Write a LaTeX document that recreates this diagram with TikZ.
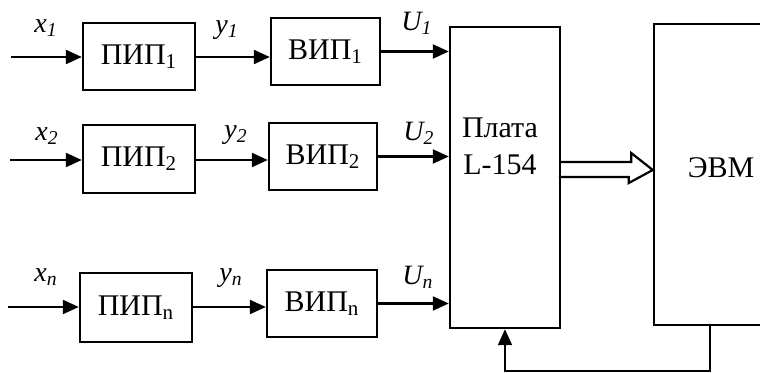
\documentclass[tikz,border=0pt]{standalone}
\usepackage{fontspec}
\setmainfont{Liberation Serif}
\usepackage{tikz}
\usetikzlibrary{arrows.meta,calc}
\tikzset{
  blk/.style={draw,line width=1.2pt,inner sep=0pt,font=\fontsize{15}{18}\selectfont},
  sig/.style={-{Triangle[length=8pt,width=7pt]},line width=1.1pt},
  lbl/.style={font=\fontsize{14}{16}\selectfont\itshape}
}

\begin{document}
\begin{tikzpicture}[x=0.5pt,y=-0.5pt]
  \useasboundingbox (0,0) rectangle (760,373);
  \node[blk,minimum width=56pt,minimum height=33.5pt] (pip1) at (139,56.5) {ПИП\textsubscript{1}};
  \node[blk,minimum width=54.5pt,minimum height=33.5pt] (vip1) at (325.5,51.5) {ВИП\textsubscript{1}};
  \node[blk,minimum width=56pt,minimum height=34pt] (pip2) at (139,159) {ПИП\textsubscript{2}};
  \node[blk,minimum width=54pt,minimum height=33.5pt] (vip2) at (323,156.5) {ВИП\textsubscript{2}};
  \node[blk,minimum width=56pt,minimum height=34.5pt] (pipn) at (136,307.5) {ПИП\textsubscript{n}};
  \node[blk,minimum width=55pt,minimum height=33.5pt] (vipn) at (322,303.5) {ВИП\textsubscript{n}};
  \node[blk,minimum width=55pt,minimum height=150.5pt] (plata) at (505,177.5) {};
  \node[font=\fontsize{15}{18.5}\selectfont,align=center] (plataTxt) at (500,146) {Плата\\L-154};
  \node[blk,minimum width=63pt,minimum height=150.5pt] (evm) at (717,174.5) {};
  \node[font=\fontsize{15}{18}\selectfont] (evmTxt) at (721,168) {ЭВМ};

  \coordinate (in1) at (11,57); \coordinate (in2) at (10,160); \coordinate (inn) at (8,307);
  \draw[sig] (in1) -- (in1 -| pip1.west); \draw[sig] (pip1.east |- in1) -- (in1 -| vip1.west);
  \draw[sig] (in2) -- (in2 -| pip2.west); \draw[sig] (pip2.east |- in2) -- (in2 -| vip2.west);
  \draw[sig] (inn) -- (inn -| pipn.west); \draw[sig] (pipn.east |- inn) -- (inn -| vipn.west);
  \draw[sig] (vip1.east) -- (vip1.east -| plata.west);
  \draw[sig] (vip2.east) -- (vip2.east -| plata.west);
  \draw[sig] (vipn.east) -- (vipn.east -| plata.west);

  \node[lbl] (lx1) at (46,28) {x\textsubscript{1}}; \node[lbl] (ly1) at (227,30) {y\textsubscript{1}}; \node[lbl] (lu1) at (417,23) {U\textsubscript{1}};
  \node[lbl] (lx2) at (47,136) {x\textsubscript{2}}; \node[lbl] (ly2) at (236,135) {y\textsubscript{2}}; \node[lbl] (lu2) at (419,133) {U\textsubscript{2}};
  \node[lbl] (lxn) at (46,277) {x\textsubscript{n}}; \node[lbl] (lyn) at (231,278) {y\textsubscript{n}}; \node[lbl] (lun) at (418,277) {U\textsubscript{n}};

  \coordinate (tip) at ($(evm.west)+(0,-4.5)$);
  \draw[line width=1.1pt,line join=miter] ($(plata.east)+(0,-15.5)$) -- ++(70,0) -- ++(0,-9) -- (tip) -- ++(-24,13) -- ++(0,-6) -- ++(-70,0);
  \draw[sig,line width=0.9pt] ($(evm.south)+(-7,0)$) -- ++(0,45) -| (plata.south);
\end{tikzpicture}
\end{document}
